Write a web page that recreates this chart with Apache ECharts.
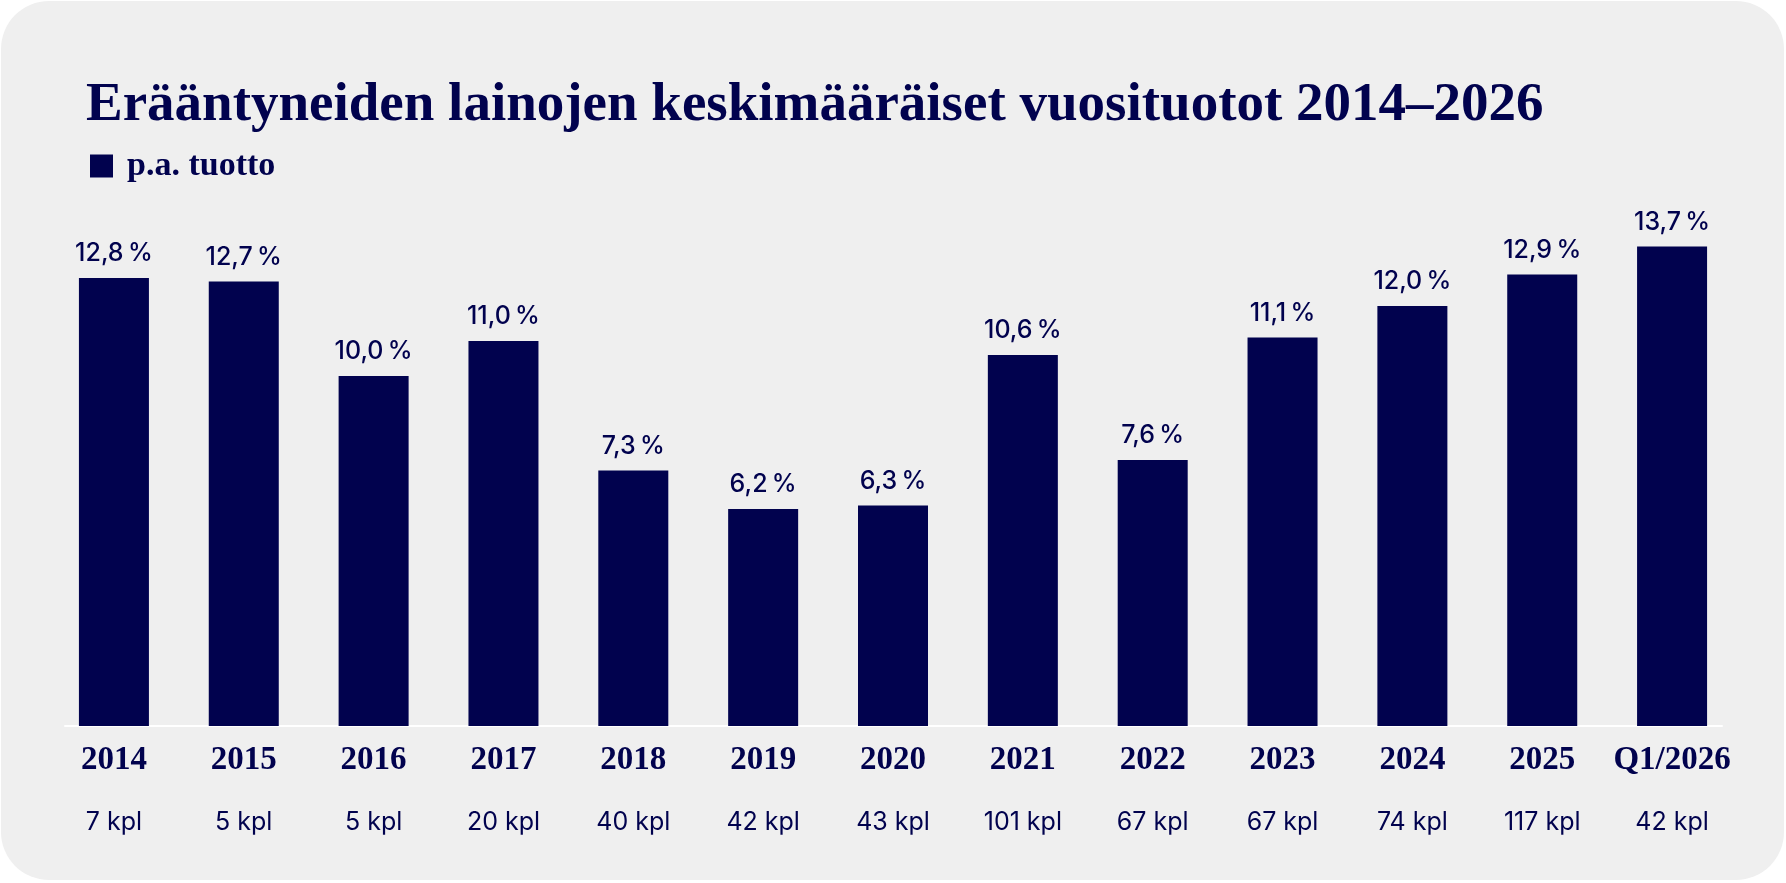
<!DOCTYPE html>
<html>
<head>
<meta charset="utf-8">
<script src="https://cdn.jsdelivr.net/npm/echarts@6/dist/echarts.min.js"></script>
<style>
html,body{margin:0;padding:0;background:#ffffff;}
#chart{width:1786px;height:883px;}
</style>
</head>
<body>
<div id="chart"></div>
<script>
const categories = ['2014','2015','2016','2017','2018','2019','2020','2021','2022','2023','2024','2025','Q1/2026'];
const returnsPct = [12.8, 12.7, 10.0, 11.0, 7.3, 6.2, 6.3, 10.6, 7.6, 11.1, 12.0, 12.9, 13.7];
const loanCounts = [7, 5, 5, 20, 40, 42, 43, 101, 67, 67, 74, 117, 42];
const seriesName = 'p.a. tuotto';
const titleText = 'Erääntyneiden lainojen keskimääräiset vuosituotot 2014–2026';

const NAVY = '#01024e';
const SERIF = '"Liberation Serif", "DejaVu Serif", serif';
const SANS = 'Inter, "Noto Sans", sans-serif';

const chart = echarts.init(document.getElementById('chart'), null, {renderer: 'canvas'});
chart.setOption({
  backgroundColor: '#ffffff',
  animation: false,
  graphic: [{
    type: 'rect', z: -10, silent: true,
    shape: {x: 1, y: 1, width: 1783, height: 879, r: 48},
    style: {fill: '#efefef'}
  }],
  title: {
    text: titleText,
    left: 81, top: 73,
    textStyle: {fontFamily: SERIF, fontWeight: 'bold', fontSize: 55, color: NAVY}
  },
  legend: {
    left: 85, top: 144,
    icon: 'rect', itemWidth: 23, itemHeight: 23,
    data: [seriesName],
    textStyle: {fontFamily: SERIF, fontWeight: 'bold', fontSize: 34, color: NAVY, padding: [0, 0, 9, 9]}
  },
  grid: [
    {left: 49, right: 49, top: 201, bottom: 157},
    {left: 65, right: 64, top: 201, bottom: 157}
  ],
  xAxis: [{
    type: 'category', gridIndex: 0, data: categories,
    axisLine: {show: false}, axisTick: {show: false},
    axisLabel: {
      margin: 3, interval: 0,
      formatter: (v, i) => '{y|' + v + '}\n{k|' + loanCounts[i] + ' kpl}',
      rich: {
        y: {fontFamily: SERIF, fontWeight: 'bold', fontSize: 33, lineHeight: 63, color: NAVY},
        k: {fontFamily: SANS, fontSize: 25, lineHeight: 60, color: NAVY}
      }
    }
  }, {
    type: 'category', gridIndex: 1, data: categories,
    axisLine: {show: true, lineStyle: {color: '#ffffff', width: 2}},
    axisTick: {show: false}, axisLabel: {show: false}
  }],
  yAxis: [{
    type: 'value', gridIndex: 0, min: 0, max: 15,
    show: false, splitLine: {show: false}
  }, {
    type: 'value', gridIndex: 1, min: 0, max: 15,
    show: false, splitLine: {show: false}
  }],
  series: [{
    name: seriesName, type: 'bar', xAxisIndex: 0, yAxisIndex: 0,
    data: returnsPct, barWidth: 70,
    itemStyle: {color: NAVY},
    label: {
      show: true, position: 'top', distance: 12,
      fontFamily: SANS, fontSize: 25, fontWeight: 500, color: NAVY,
      formatter: p => p.value.toFixed(1).replace('.', ',') + '\u2009%'
    }
  }]
});
</script>
</body>
</html>
